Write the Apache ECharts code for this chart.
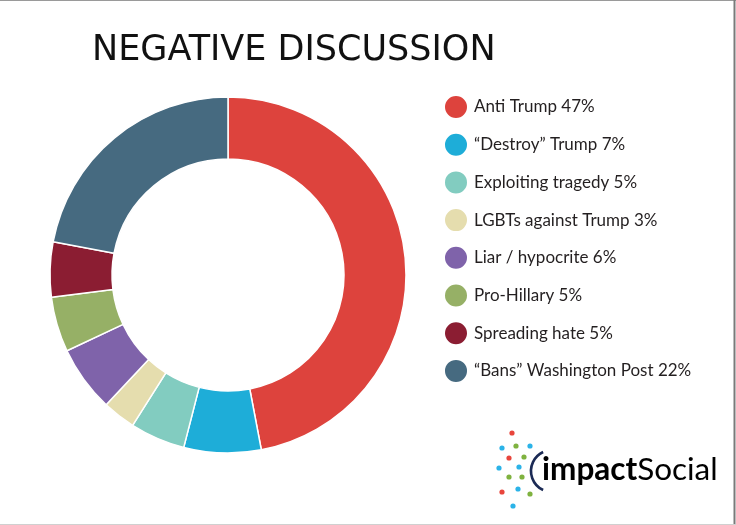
<!DOCTYPE html>
<html>
<head>
<meta charset="utf-8">
<script src="https://cdn.jsdelivr.net/npm/echarts@6/dist/echarts.min.js"></script>
<style>
html,body{margin:0;padding:0;background:#fff;}
#chart{width:736px;height:525px;}
</style>
</head>
<body>
<div id="chart"></div>
<script>
var categories = ['Anti Trump', '\u201cDestroy\u201d Trump', 'Exploiting tragedy', 'LGBTs against Trump', 'Liar / hypocrite', 'Pro-Hillary', 'Spreading hate', '\u201cBans\u201d Washington Post'];
var values = [47, 7, 5, 3, 6, 5, 5, 22];
var colors = ['#DD433D', '#1EADD8', '#82CCC0', '#E5DDAE', '#7F63AA', '#96B066', '#8B1D32', '#466A80'];

var logoDots = [
  [512, 433, '#E8453C'], [502, 448, '#2BB3E8'], [516, 446, '#7FB23F'], [530, 446, '#2BB3E8'],
  [509, 458, '#E8453C'], [524, 457, '#7FB23F'], [499, 468, '#2BB3E8'], [519, 467, '#2BB3E8'],
  [509, 477, '#7FB23F'], [522, 477, '#7FB23F'], [502, 492, '#E8453C'], [518, 489, '#2BB3E8'],
  [530, 494, '#7FB23F'], [513, 506, '#2BB3E8']
];

var chart = echarts.init(document.getElementById('chart'), null, {renderer: 'canvas'});
var data = categories.map(function (c, i) {
  return {name: c, value: values[i], itemStyle: {color: colors[i]}};
});
var graphics = logoDots.map(function (d) {
  return {type: 'circle', shape: {cx: d[0], cy: d[1], r: 2.6}, style: {fill: d[2]}, silent: true};
});
graphics.push({
  type: 'arc', shape: {cx: 552, cy: 471, r: 21, startAngle: 115 * Math.PI / 180, endAngle: 245 * Math.PI / 180, clockwise: true},
  style: {stroke: '#1B2A55', lineWidth: 2.6, fill: null}, silent: true
});
graphics.push({
  type: 'text', left: 542, top: 454,
  style: {
    text: '{b|impact}{r|Social}',
    rich: {
      b: {fontFamily: 'Lato', fontWeight: 'bold', fontSize: 31.5, color: '#1B2A55'},
      r: {fontFamily: 'Lato', fontWeight: 'normal', fontSize: 31.5, color: '#1B2A55'}
    }
  }, silent: true
});
graphics.push({type: 'line', shape: {x1: 0, y1: 0.5, x2: 736, y2: 0.5}, style: {stroke: '#9a9a9a', lineWidth: 1}, silent: true});
graphics.push({type: 'line', shape: {x1: 734.5, y1: 0, x2: 734.5, y2: 525}, style: {stroke: '#7a7a7a', lineWidth: 2}, silent: true});
graphics.push({type: 'line', shape: {x1: 0, y1: 524.5, x2: 736, y2: 524.5}, style: {stroke: '#d0d0d0', lineWidth: 1}, silent: true});

chart.setOption({
  animation: false,
  backgroundColor: '#ffffff',
  title: {
    text: 'NEGATIVE DISCUSSION',
    left: 87, top: 28,
    textStyle: {fontFamily: 'DejaVu Sans', fontWeight: 'normal', fontSize: 35, color: '#111'}
  },
  legend: {
    orient: 'vertical',
    left: 443, top: 94,
    padding: 0,
    icon: 'circle',
    itemWidth: 24, itemHeight: 24,
    itemGap: 11.7,
    selectedMode: false,
    data: categories,
    formatter: function (name) {
      var i = categories.indexOf(name);
      return name + ' ' + values[i] + '%';
    },
    textStyle: {fontFamily: 'Lato', fontSize: 17, color: '#231F20', padding: [0, 0, 0, 1]}
  },
  series: [{
    type: 'pie',
    center: [228, 275],
    radius: [116, 178],
    startAngle: 90,
    clockwise: true,
    label: {show: false},
    labelLine: {show: false},
    emphasis: {disabled: true},
    itemStyle: {borderColor: '#ffffff', borderWidth: 1.5},
    data: data
  }],
  graphic: graphics
});
</script>
</body>
</html>
